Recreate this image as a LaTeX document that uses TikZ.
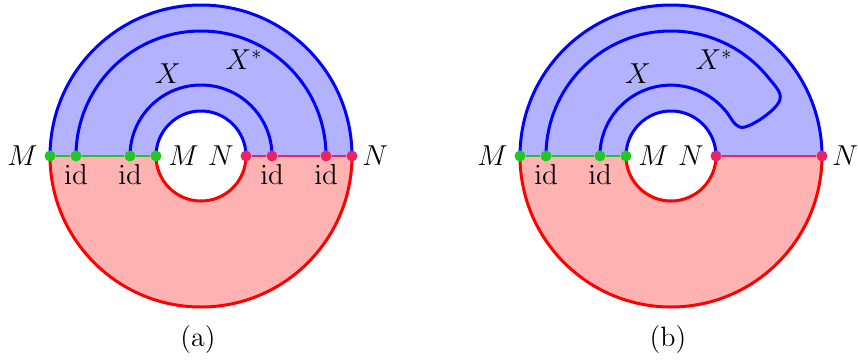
\documentclass[tikz,border=0pt]{standalone}
\usepackage{tikz}
\usetikzlibrary{positioning}
\definecolor{cTop}{RGB}{178,178,255}
\definecolor{cBot}{RGB}{255,178,178}
\definecolor{eTop}{RGB}{0,0,255}
\definecolor{eBot}{RGB}{255,0,0}
\definecolor{sM}{RGB}{34,200,34}
\definecolor{sN}{RGB}{232,36,100}

\begin{document}
\begin{tikzpicture}[
  x=0.5pt, y=0.5pt,
  font=\fontsize{14}{17}\selectfont,
  topline/.style={draw=eTop, line width=1.5pt},
  botline/.style={draw=eBot, line width=1.5pt},
  seamM/.style={draw=sM, line width=1.45pt},
  seamN/.style={draw=sN, line width=1.45pt},
  dotM/.style={circle, fill=sM, inner sep=0pt, minimum size=5.5pt},
  dotN/.style={circle, fill=sN, inner sep=0pt, minimum size=5.5pt},
  lbl/.style={inner sep=1pt},
]
\useasboundingbox (0,0) rectangle (858,-360);

% ---- (a): two straight strands ----
\begin{scope}[shift={(201,-156)}]
  \fill[cTop] (-151,0) arc[start angle=180,end angle=0,radius=151] -- (45,0) arc[start angle=0,end angle=180,radius=45] -- cycle;
  \fill[cBot] (-151,0) arc[start angle=180,end angle=360,radius=151] -- (45,0) arc[start angle=360,end angle=180,radius=45] -- cycle;
  \draw[topline] (-151,0) arc[start angle=180,end angle=0,radius=151];
  \draw[topline] (-45,0) arc[start angle=180,end angle=0,radius=45];
  \draw[topline] (-71,0) arc[start angle=180,end angle=0,radius=71];
  \draw[topline] (-125,0) arc[start angle=180,end angle=0,radius=125];
  \draw[botline] (-151,0) arc[start angle=180,end angle=360,radius=151];
  \draw[botline] (-45,0) arc[start angle=180,end angle=360,radius=45];

  \node[dotM] (aM1) at (-151,0) {};
  \node[dotM] (aM2) at (-125,0) {};
  \node[dotM] (aM3) at (-71,0) {};
  \node[dotM] (aM4) at (-45,0) {};
  \node[dotN] (aN1) at (45,0) {};
  \node[dotN] (aN2) at (71,0) {};
  \node[dotN] (aN3) at (125,0) {};
  \node[dotN] (aN4) at (151,0) {};
  \draw[seamM] (aM1) -- (aM2) -- (aM3) -- (aM4);
  \draw[seamN] (aN1) -- (aN2) -- (aN3) -- (aN4);

  \node[lbl, left=2pt of aM1] {$M$};
  \node[lbl, right=2pt of aM4] {$M$};
  \node[lbl, left=2pt of aN1] {$N$};
  \node[lbl, right=1pt of aN4] {$N$};
  \node[lbl, below=0pt of aM2] {$\mathrm{id}$};
  \node[lbl, below=0pt of aM3] {$\mathrm{id}$};
  \node[lbl, below=0pt of aN2] {$\mathrm{id}$};
  \node[lbl, below=0pt of aN3] {$\mathrm{id}$};
  \node (aX) at (-33,82) {$X$};
  \node (aXs) at (43,96) {$X^{*}$};
  \node (acap) at (-3,-184) {(a)};
\end{scope}

% ---- (b): strands joined by a cap ----
\begin{scope}[shift={(671,-156)}]
  \fill[cTop] (-151,0) arc[start angle=180,end angle=0,radius=151] -- (45,0) arc[start angle=0,end angle=180,radius=45] -- cycle;
  \fill[cBot] (-151,0) arc[start angle=180,end angle=360,radius=151] -- (45,0) arc[start angle=360,end angle=180,radius=45] -- cycle;
  \draw[topline] (-151,0) arc[start angle=180,end angle=0,radius=151];
  \draw[topline] (-45,0) arc[start angle=180,end angle=0,radius=45];
  \draw[topline] (-125,0) arc[start angle=180,end angle=38,radius=125]
    .. controls (106,68) and (112,62) .. (108,54)
    .. controls (104,46) and (85,32) .. (74,29)
    .. controls (66,27) and (63,33) .. (57,42)
    arc[start angle=36.4,end angle=180,radius=71];
  \draw[botline] (-151,0) arc[start angle=180,end angle=360,radius=151];
  \draw[botline] (-45,0) arc[start angle=180,end angle=360,radius=45];

  \node[dotM] (bM1) at (-151,0) {};
  \node[dotM] (bM2) at (-125,0) {};
  \node[dotM] (bM3) at (-71,0) {};
  \node[dotM] (bM4) at (-45,0) {};
  \node[dotN] (bN1) at (45,0) {};
  \node[dotN] (bN4) at (151,0) {};
  \draw[seamM] (bM1) -- (bM2) -- (bM3) -- (bM4);
  \draw[seamN] (bN1) -- (bN4);

  \node[lbl, left=2pt of bM1] {$M$};
  \node[lbl, right=2pt of bM4] {$M$};
  \node[lbl, left=2pt of bN1] {$N$};
  \node[lbl, right=1pt of bN4] {$N$};
  \node[lbl, below=0pt of bM2] {$\mathrm{id}$};
  \node[lbl, below=0pt of bM3] {$\mathrm{id}$};
  \node (bX) at (-33,82) {$X$};
  \node (bXs) at (43,96) {$X^{*}$};
  \node (bcap) at (-3,-184) {(b)};
\end{scope}
\end{tikzpicture}
\end{document}
